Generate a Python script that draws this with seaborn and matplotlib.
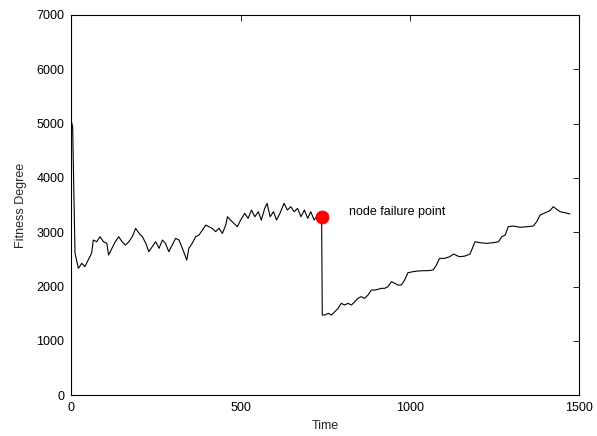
import matplotlib
matplotlib.use("Agg")
import matplotlib.pyplot as plt
import seaborn as sns
import pandas as pd

# Values
time = [0, 4, 11, 21, 31, 40, 50, 60, 65, 75, 85, 95, 105, 110, 120, 130, 140, 150,
        160, 170, 180, 190, 200, 210, 220, 229, 239, 249, 259, 269, 278, 288, 298,
        308, 318, 328, 341, 347, 357, 367, 377, 387, 397, 406, 416, 426, 436, 446,
        456, 461, 470, 480, 490, 500, 512, 522, 532, 542, 552, 561, 571, 578, 587,
        597, 606, 616, 628, 638, 648, 658, 668, 678, 688, 698, 707, 717, 727, 739,
        741, 749, 759, 768, 778, 788, 797, 807, 817, 827, 837, 846, 856, 866, 876,
        886, 896, 905, 915, 925, 935, 945, 955, 964, 974, 984, 994, 1009, 1024,
        1038, 1053, 1068, 1078, 1087, 1102, 1117, 1129, 1141, 1147, 1162, 1177,
        1182, 1192, 1207, 1226, 1246, 1261, 1271, 1281, 1290, 1305, 1325, 1344,
        1364, 1374, 1384, 1399, 1413, 1423, 1433, 1443, 1458, 1472]
fitness = [5050, 4944, 2614, 2337, 2430, 2368, 2490, 2614, 2858, 2827, 2919, 2827,
           2797, 2582, 2705, 2827, 2919, 2827, 2766, 2827, 2919, 3073, 2981, 2919,
           2797, 2644, 2736, 2827, 2705, 2858, 2797, 2644, 2766, 2889, 2858, 2705,
           2490, 2705, 2797, 2919, 2950, 3042, 3134, 3103, 3073, 3012, 3073, 2981,
           3134, 3287, 3226, 3165, 3104, 3226, 3349, 3257, 3410, 3287, 3380, 3226,
           3441, 3533, 3287, 3380, 3226, 3349, 3533, 3410, 3472, 3380, 3441, 3287,
           3410, 3257, 3380, 3226, 3318, 3276,
           1478, 1478, 1509, 1478, 1540, 1601, 1693, 1662, 1693, 1662, 1723, 1785,
           1815, 1785, 1846, 1938, 1938, 1950, 1969, 1969, 1999, 2091, 2061, 2030,
           2030, 2122, 2257, 2276, 2288, 2294, 2294, 2306, 2398, 2521, 2521, 2551,
           2600, 2563, 2551, 2563, 2600, 2674, 2827, 2809, 2797, 2809, 2827, 2919,
           2950, 3104, 3116, 3092, 3104, 3116, 3196, 3318, 3361, 3398, 3472, 3423,
           3380, 3361, 3337]
fail_time = [740]
fail_value = [3276]
annotation = "node failure point"
x_ticks = [0, 500, 1000, 1500]
y_ticks = [0, 1000, 2000, 3000, 4000, 5000, 6000, 7000]

sns.set_style("white")
plt.rcParams['font.family'] = ['Liberation Sans', 'DejaVu Sans']

df = pd.DataFrame({"Time": time, "Fitness Degree": fitness})

fig = plt.figure(figsize=(5.97, 4.36), dpi=100)
ax = fig.add_axes([0.1194, 0.0933, 0.9705 - 0.1194, 0.9656 - 0.0933])

sns.lineplot(data=df, x="Time", y="Fitness Degree", ax=ax, color="black",
             linewidth=0.8, estimator=None, sort=False)
sns.scatterplot(x=fail_time, y=fail_value, ax=ax, color="#ff0000", s=85,
                edgecolor="#ff0000", zorder=5)
ax.text(820, 3370, annotation, fontsize=9, ha="left", va="center", color="black")

ax.set_xlim(0, 1500)
ax.set_ylim(0, 7000)
ax.set_xticks(x_ticks)
ax.set_yticks(y_ticks)
ax.tick_params(direction="in", length=4, width=0.6, labelsize=9, top=True,
               right=True, colors="black", pad=5)
ax.set_xlabel("Time", fontsize=9, labelpad=4)
ax.set_ylabel("Fitness Degree", fontsize=9, labelpad=7)
for s in ax.spines.values():
    s.set_visible(True)
    s.set_color("black")
    s.set_linewidth(0.8)

fig.savefig("out.png", dpi=100)
